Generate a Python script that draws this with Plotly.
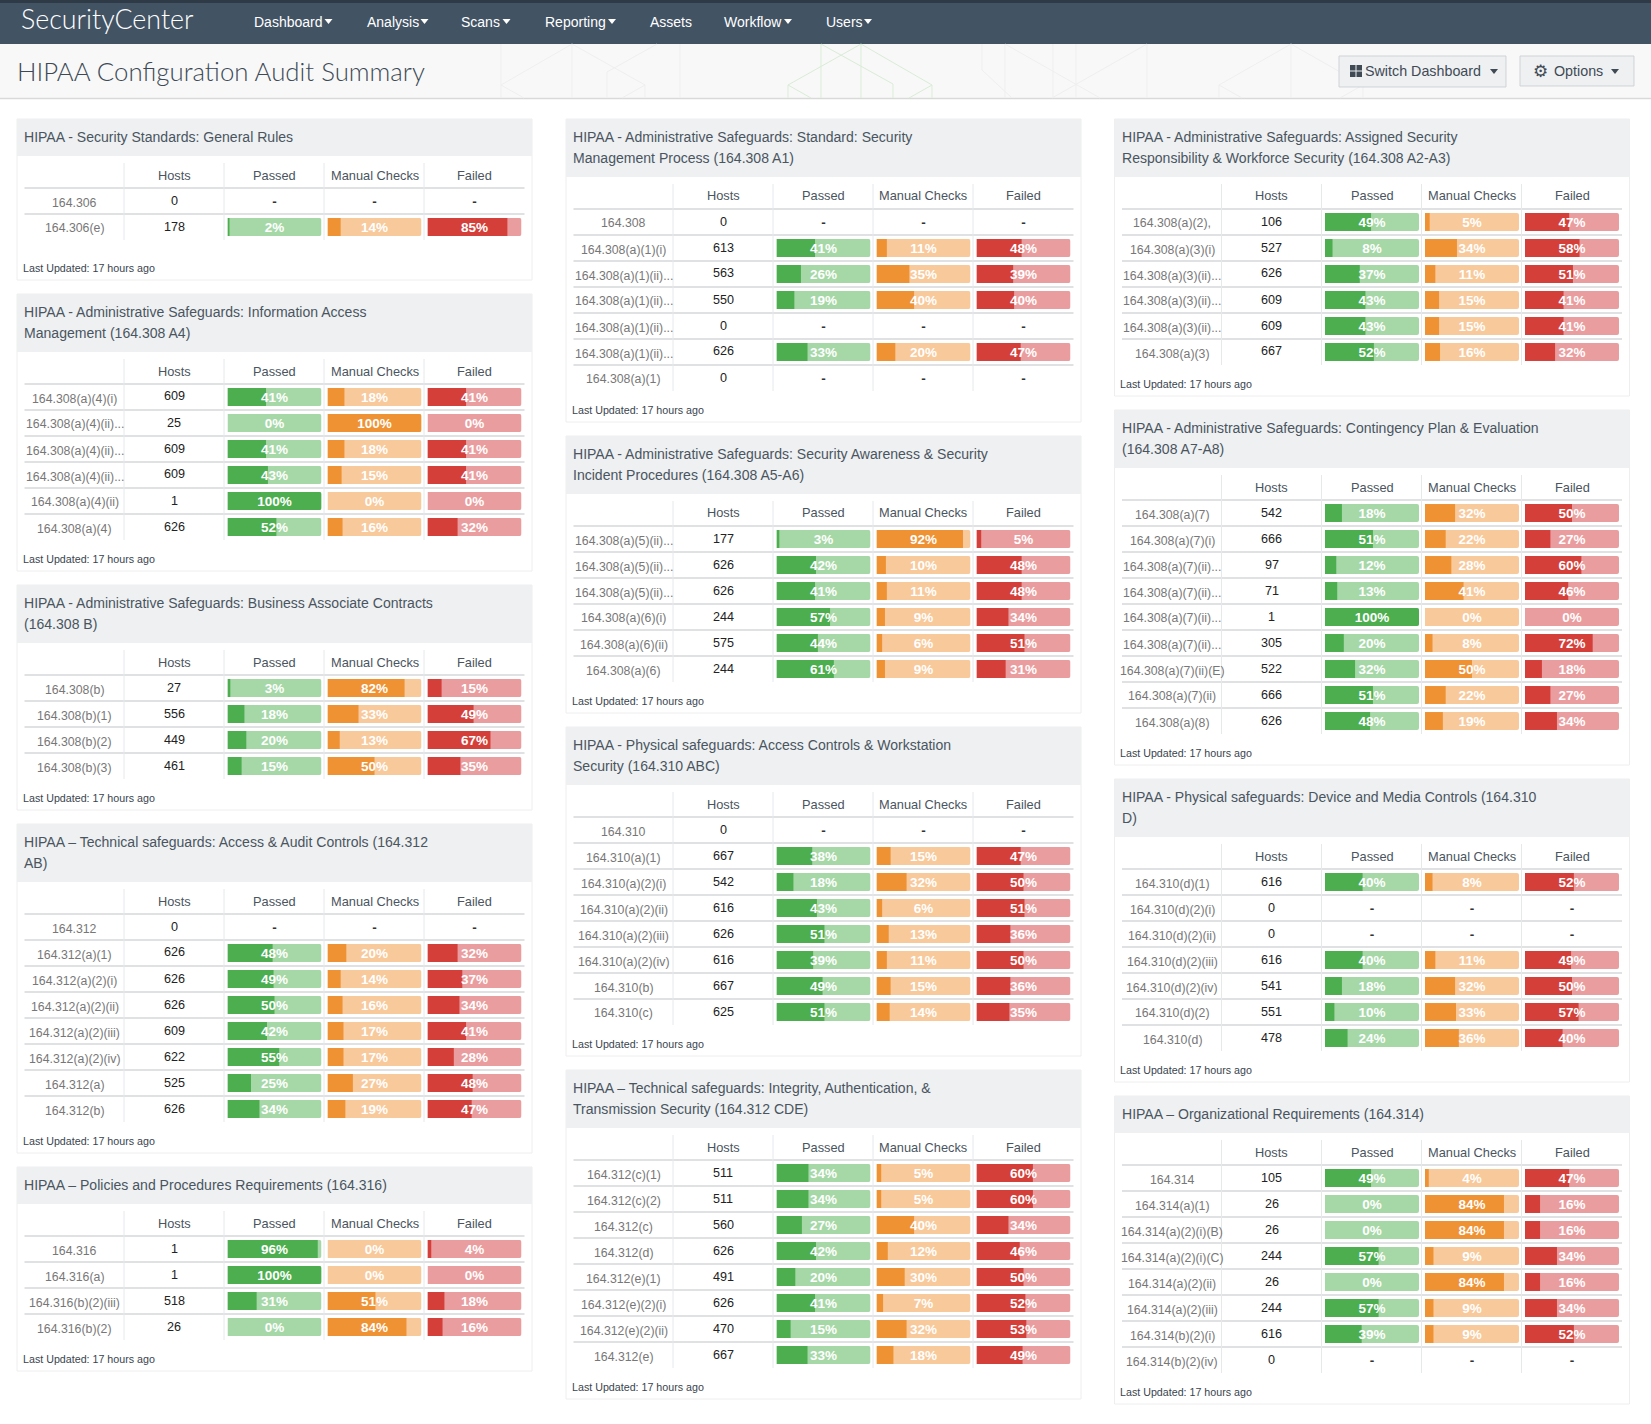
import plotly.graph_objects as go

W = 1651
H = 1424

metrics = ["Passed", "Manual Checks", "Failed"]
nav_items = ["Dashboard", "Analysis", "Scans", "Reporting", "Assets", "Workflow", "Users"]
updated_text = "Last Updated: 17 hours ago"

# column 1
general_title = "HIPAA - Security Standards: General Rules"
general_labels = ["164.306", "164.306(e)"]
general_hosts = [0, 178]
general_passed = [None, 2]
general_manual = [None, 14]
general_failed = [None, 85]

access_mgmt_title = "HIPAA - Administrative Safeguards: Information Access<br>Management (164.308 A4)"
access_mgmt_labels = ["164.308(a)(4)(i)", "164.308(a)(4)(ii)...", "164.308(a)(4)(ii)...", "164.308(a)(4)(ii)...", "164.308(a)(4)(ii)", "164.308(a)(4)"]
access_mgmt_hosts = [609, 25, 609, 609, 1, 626]
access_mgmt_passed = [41, 0, 41, 43, 100, 52]
access_mgmt_manual = [18, 100, 18, 15, 0, 16]
access_mgmt_failed = [41, 0, 41, 41, 0, 32]

associate_title = "HIPAA - Administrative Safeguards: Business Associate Contracts<br>(164.308 B)"
associate_labels = ["164.308(b)", "164.308(b)(1)", "164.308(b)(2)", "164.308(b)(3)"]
associate_hosts = [27, 556, 449, 461]
associate_passed = [3, 18, 20, 15]
associate_manual = [82, 33, 13, 50]
associate_failed = [15, 49, 67, 35]

audit_title = "HIPAA – Technical safeguards: Access & Audit Controls (164.312<br>AB)"
audit_labels = ["164.312", "164.312(a)(1)", "164.312(a)(2)(i)", "164.312(a)(2)(ii)", "164.312(a)(2)(iii)", "164.312(a)(2)(iv)", "164.312(a)", "164.312(b)"]
audit_hosts = [0, 626, 626, 626, 609, 622, 525, 626]
audit_passed = [None, 48, 49, 50, 42, 55, 25, 34]
audit_manual = [None, 20, 14, 16, 17, 17, 27, 19]
audit_failed = [None, 32, 37, 34, 41, 28, 48, 47]

policies_title = "HIPAA – Policies and Procedures Requirements (164.316)"
policies_labels = ["164.316", "164.316(a)", "164.316(b)(2)(iii)", "164.316(b)(2)"]
policies_hosts = [1, 1, 518, 26]
policies_passed = [96, 100, 31, 0]
policies_manual = [0, 0, 51, 84]
policies_failed = [4, 0, 18, 16]

# column 2
process_title = "HIPAA - Administrative Safeguards: Standard: Security<br>Management Process (164.308 A1)"
process_labels = ["164.308", "164.308(a)(1)(i)", "164.308(a)(1)(ii)...", "164.308(a)(1)(ii)...", "164.308(a)(1)(ii)...", "164.308(a)(1)(ii)...", "164.308(a)(1)"]
process_hosts = [0, 613, 563, 550, 0, 626, 0]
process_passed = [None, 41, 26, 19, None, 33, None]
process_manual = [None, 11, 35, 40, None, 20, None]
process_failed = [None, 48, 39, 40, None, 47, None]

awareness_title = "HIPAA - Administrative Safeguards: Security Awareness & Security<br>Incident Procedures (164.308 A5-A6)"
awareness_labels = ["164.308(a)(5)(ii)...", "164.308(a)(5)(ii)...", "164.308(a)(5)(ii)...", "164.308(a)(6)(i)", "164.308(a)(6)(ii)", "164.308(a)(6)"]
awareness_hosts = [177, 626, 626, 244, 575, 244]
awareness_passed = [3, 42, 41, 57, 44, 61]
awareness_manual = [92, 10, 11, 9, 6, 9]
awareness_failed = [5, 48, 48, 34, 51, 31]

workstation_title = "HIPAA - Physical safeguards: Access Controls & Workstation<br>Security (164.310 ABC)"
workstation_labels = ["164.310", "164.310(a)(1)", "164.310(a)(2)(i)", "164.310(a)(2)(ii)", "164.310(a)(2)(iii)", "164.310(a)(2)(iv)", "164.310(b)", "164.310(c)"]
workstation_hosts = [0, 667, 542, 616, 626, 616, 667, 625]
workstation_passed = [None, 38, 18, 43, 51, 39, 49, 51]
workstation_manual = [None, 15, 32, 6, 13, 11, 15, 14]
workstation_failed = [None, 47, 50, 51, 36, 50, 36, 35]

integrity_title = "HIPAA – Technical safeguards: Integrity, Authentication, &<br>Transmission Security (164.312 CDE)"
integrity_labels = ["164.312(c)(1)", "164.312(c)(2)", "164.312(c)", "164.312(d)", "164.312(e)(1)", "164.312(e)(2)(i)", "164.312(e)(2)(ii)", "164.312(e)"]
integrity_hosts = [511, 511, 560, 626, 491, 626, 470, 667]
integrity_passed = [34, 34, 27, 42, 20, 41, 15, 33]
integrity_manual = [5, 5, 40, 12, 30, 7, 32, 18]
integrity_failed = [60, 60, 34, 46, 50, 52, 53, 49]

# column 3
workforce_title = "HIPAA - Administrative Safeguards: Assigned Security<br>Responsibility & Workforce Security (164.308 A2-A3)"
workforce_labels = ["164.308(a)(2),", "164.308(a)(3)(i)", "164.308(a)(3)(ii)...", "164.308(a)(3)(ii)...", "164.308(a)(3)(ii)...", "164.308(a)(3)"]
workforce_hosts = [106, 527, 626, 609, 609, 667]
workforce_passed = [49, 8, 37, 43, 43, 52]
workforce_manual = [5, 34, 11, 15, 15, 16]
workforce_failed = [47, 58, 51, 41, 41, 32]

contingency_title = "HIPAA - Administrative Safeguards: Contingency Plan & Evaluation<br>(164.308 A7-A8)"
contingency_labels = ["164.308(a)(7)", "164.308(a)(7)(i)", "164.308(a)(7)(ii)...", "164.308(a)(7)(ii)...", "164.308(a)(7)(ii)...", "164.308(a)(7)(ii)...", "164.308(a)(7)(ii)(E)", "164.308(a)(7)(ii)", "164.308(a)(8)"]
contingency_hosts = [542, 666, 97, 71, 1, 305, 522, 666, 626]
contingency_passed = [18, 51, 12, 13, 100, 20, 32, 51, 48]
contingency_manual = [32, 22, 28, 41, 0, 8, 50, 22, 19]
contingency_failed = [50, 27, 60, 46, 0, 72, 18, 27, 34]

media_title = "HIPAA - Physical safeguards: Device and Media Controls (164.310<br>D)"
media_labels = ["164.310(d)(1)", "164.310(d)(2)(i)", "164.310(d)(2)(ii)", "164.310(d)(2)(iii)", "164.310(d)(2)(iv)", "164.310(d)(2)", "164.310(d)"]
media_hosts = [616, 0, 0, 616, 541, 551, 478]
media_passed = [40, None, None, 40, 18, 10, 24]
media_manual = [8, None, None, 11, 32, 33, 36]
media_failed = [52, None, None, 49, 50, 57, 40]

org_title = "HIPAA – Organizational Requirements (164.314)"
org_labels = ["164.314", "164.314(a)(1)", "164.314(a)(2)(i)(B)", "164.314(a)(2)(i)(C)", "164.314(a)(2)(ii)", "164.314(a)(2)(iii)", "164.314(b)(2)(i)", "164.314(b)(2)(iv)"]
org_hosts = [105, 26, 26, 244, 26, 244, 616, 0]
org_passed = [49, 0, 0, 57, 0, 57, 39, None]
org_manual = [4, 84, 84, 9, 84, 9, 9, None]
org_failed = [47, 16, 16, 34, 16, 34, 52, None]

columns = [
    [(general_title, general_labels, general_hosts, general_passed, general_manual, general_failed),
     (access_mgmt_title, access_mgmt_labels, access_mgmt_hosts, access_mgmt_passed, access_mgmt_manual, access_mgmt_failed),
     (associate_title, associate_labels, associate_hosts, associate_passed, associate_manual, associate_failed),
     (audit_title, audit_labels, audit_hosts, audit_passed, audit_manual, audit_failed),
     (policies_title, policies_labels, policies_hosts, policies_passed, policies_manual, policies_failed)],
    [(process_title, process_labels, process_hosts, process_passed, process_manual, process_failed),
     (awareness_title, awareness_labels, awareness_hosts, awareness_passed, awareness_manual, awareness_failed),
     (workstation_title, workstation_labels, workstation_hosts, workstation_passed, workstation_manual, workstation_failed),
     (integrity_title, integrity_labels, integrity_hosts, integrity_passed, integrity_manual, integrity_failed)],
    [(workforce_title, workforce_labels, workforce_hosts, workforce_passed, workforce_manual, workforce_failed),
     (contingency_title, contingency_labels, contingency_hosts, contingency_passed, contingency_manual, contingency_failed),
     (media_title, media_labels, media_hosts, media_passed, media_manual, media_failed),
     (org_title, org_labels, org_hosts, org_passed, org_manual, org_failed)],
]

# page layout in pixels
FONT = "Liberation Sans"
NAV_BG = "#425364"
TEXT = "#4a5560"
LINE = "#e4e6e8"
DARK = ["#4cae4f", "#ef9234", "#d43f3a"]
LIGHT = ["#a6d8a7", "#f8c99b", "#ea9d9e"]
COL_LEFT = [17, 566, 1114.5]
PANEL_W = 515
ROW_H = 26


def px(x):
    return x / W


def py(y):
    return 1 - y / H


fig = go.Figure()
shapes = []
annots = []


def box(x0, y0, x1, y1, fill, line=None):
    shapes.append(dict(type="rect", xref="paper", yref="paper", x0=px(x0), x1=px(x1), y0=py(y0), y1=py(y1),
                       fillcolor=fill, line=dict(color=line or fill, width=1 if line else 0), layer="below"))


def seg(x0, y0, x1, y1, color=LINE, width=1.5):
    shapes.append(dict(type="line", xref="paper", yref="paper", x0=px(x0), x1=px(x1), y0=py(y0), y1=py(y1),
                       line=dict(color=color, width=width), layer="below"))


def label(x, y, text, size=13.5, color=TEXT, anchor="center", weight=None, family=FONT):
    annots.append(dict(xref="paper", yref="paper", x=px(x), y=py(y), text=text, showarrow=False, xanchor=anchor,
                       yanchor="middle", align="left", font=dict(family=family, size=size, color=color, weight=weight)))


def caret(x, y, color, half=4):
    xs = [px(x - half), px(x + half), px(x)]
    ys = [py(y - 2), py(y - 2), py(y + 3)]
    shapes.append(dict(type="path", xref="paper", yref="paper", fillcolor=color, line=dict(width=0),
                       path=f"M {xs[0]} {ys[0]} L {xs[1]} {ys[1]} L {xs[2]} {ys[2]} Z"))


# nav bar
box(0, 0, W, 44, NAV_BG)
box(0, 0, W, 3, "#2e3a46")
label(18.5, 19, "SecurityCenter", size=26.8, color="#ffffff", anchor="left", family="Lato", weight=300)
nav_x = [251.5, 364.5, 459, 542.5, 647.5, 721.5, 823.5]
for name, x in zip(nav_items, nav_x):
    label(x, 22, name, size=14, color="#ffffff", anchor="left", weight=500)
for x in [328.5, 424.5, 506.5, 612, 788, 868]:
    caret(x, 21, "#ffffff", 4)

# sub header
box(0, 44, W, 98, "#f8f8f8")
seg(0, 98.5, W, 98.5, "#d9d9d9", 1.5)
for a, b, c, d in [(501, 44, 501, 98), (572, 44, 572, 98), (645, 85, 645, 98), (680, 44, 680, 98),
                   (501, 85, 572, 44), (572, 44, 645, 85), (645, 85, 622, 98), (501, 85, 524, 98),
                   (607, 72, 657, 44), (607, 72, 607, 98),
                   (982, 44, 982, 70), (982, 70, 1012, 98), (1005, 44, 1005, 98), (1005, 44, 1100, 98),
                   (1053, 44, 1053, 98), (1076, 44, 1076, 98), (1147, 44, 1052, 98), (1147, 44, 1147, 98),
                   (1219, 85, 1291, 44), (1291, 44, 1363, 85), (1219, 85, 1219, 98), (1219, 85, 1242, 98),
                   (1291, 44, 1291, 98), (1363, 85, 1363, 98), (1363, 85, 1340, 98)]:
    seg(a, b, c, d, "#eeefee", 1)
for a, b, c, d in [(788, 85, 861, 44), (861, 44, 932, 85), (932, 85, 909, 98), (788, 85, 811, 98),
                   (788, 85, 788, 98), (932, 85, 932, 98), (821, 44, 821, 98), (861, 44, 861, 98),
                   (821, 44, 893, 84), (893, 84, 893, 98)]:
    seg(a, b, c, d, "#d9edd6", 1)
label(14.5, 71, "HIPAA Configuration Audit Summary", size=25.8, color="#3d4a56", anchor="left", family="Lato", weight=300)

# buttons
box(1339, 56, 1506, 87, "#eef0f2", "#cfd3d6")
box(1520, 56, 1634, 86, "#eef0f2", "#cfd3d6")
for i in range(2):
    for j in range(2):
        box(1350 + i * 6.5, 65 + j * 6.5, 1355.5 + i * 6.5, 70.5 + j * 6.5, "#3f4a55")
label(1363, 71, "Switch Dashboard", size=14.3, color="#3f4a55", anchor="left")
caret(1494, 71, "#3f4a55", 4)
label(1540, 71, "⚙", size=17, color="#3f4a55", family="DejaVu Sans")
label(1552, 71, "Options", size=14.3, color="#3f4a55", anchor="left")
caret(1615, 71, "#3f4a55", 4)

layout_axes = {}
y_index = 0

# nine x axes, one per page column and metric, each running 0 to 100 percent
for c, left in enumerate(COL_LEFT):
    for m in range(3):
        x_id = c * 3 + m + 1
        bar_left = left + 210.5 + m * 100
        key = "xaxis" if x_id == 1 else f"xaxis{x_id}"
        layout_axes[key] = dict(domain=[px(bar_left), px(bar_left + 94)], range=[0, 100], visible=False, fixedrange=True)

for c, panels in enumerate(columns):
    left = COL_LEFT[c]
    top = 119
    for p, (title, labels, hosts, passed, manual, failed) in enumerate(panels):
        lines = title.count("<br>") + 1
        head = 37 if lines == 1 else 58
        n = len(labels)
        rows_top = top + head + 32
        rows_bot = rows_top + n * ROW_H
        extra = 9 if n == 2 else 0
        bottom = rows_bot + 31 + extra

        box(left, top, left + PANEL_W, bottom, "#ffffff", "#eeeeee")
        box(left, top, left + PANEL_W, top + head, "#eef0f2")
        for i, t in enumerate(title.split("<br>")):
            label(left + 5, top + 18 + i * 21, t, size=14.05, anchor="left")

        # table grid
        seg(left + 7.5, rows_top, left + 507.5, rows_top, "#dfe1e3", 2)
        for r in range(1, n):
            seg(left + 7.5, rows_top + r * ROW_H, left + 507.5, rows_top + r * ROW_H, "#dfe1e3", 2)
        for k in range(4):
            seg(left + 107 + k * 100, rows_top - 25, left + 107 + k * 100, rows_bot, "#e6e8ea", 1)
        label(left + 157, rows_top - 13, "Hosts", size=12.8)
        for m, name in enumerate(metrics):
            label(left + 257.5 + m * 100, rows_top - 13, name, size=12.8)
        label(left + 3.5, rows_bot + 20 + extra - 1, updated_text, size=10.7, color="#3a444e", anchor="left")

        y_index += 1
        y_key = "yaxis" if y_index == 1 else f"yaxis{y_index}"
        y_name = "y" if y_index == 1 else f"y{y_index}"
        layout_axes[y_key] = dict(domain=[py(rows_bot), py(rows_top)], range=[n - 0.5, -0.5], visible=False, fixedrange=True)
        rows = list(range(n))

        for r in rows:
            label(left + 57.5, rows_top + r * ROW_H + 14.5, labels[r], size=12.3, color="#777777")
            label(left + 157, rows_top + r * ROW_H + 12.5, str(hosts[r]), size=12.6, color="#222222")

        for m, values in enumerate([passed, manual, failed]):
            x_id = c * 3 + m + 1
            x_name = "x" if x_id == 1 else f"x{x_id}"
            fig.add_trace(go.Bar(x=[100 if v is not None else None for v in values], y=rows, orientation="h", width=0.69,
                                 marker=dict(color=LIGHT[m], cornerradius=2, line=dict(width=0)),
                                 xaxis=x_name, yaxis=y_name, hoverinfo="skip", showlegend=False))
            fig.add_trace(go.Bar(x=values, y=rows, orientation="h", width=0.69,
                                 marker=dict(color=DARK[m], cornerradius=2, line=dict(width=0)),
                                 xaxis=x_name, yaxis=y_name, hoverinfo="skip", showlegend=False))
            # small downward nudge so the text sits where the page had it
            fig.add_trace(go.Scatter(x=[50] * n, y=[r + 0.06 for r in rows], mode="text", cliponaxis=False,
                                     text=[f"{v}%" if v is not None else "-" for v in values],
                                     textposition="middle center",
                                     textfont=dict(family=FONT, size=13.5, weight=700,
                                                   color=["#ffffff" if v is not None else "#333333" for v in values]),
                                     xaxis=x_name, yaxis=y_name, hoverinfo="skip", showlegend=False))
        top = bottom + 14

fig.update_layout(width=W, height=H, margin=dict(l=0, r=0, t=0, b=0), barmode="overlay",
                  paper_bgcolor="#ffffff", plot_bgcolor="rgba(0,0,0,0)", showlegend=False,
                  shapes=shapes, annotations=annots, **layout_axes)

fig.write_html("out.html", config=dict(displayModeBar=False), post_script="document.body.style.margin='0';")
